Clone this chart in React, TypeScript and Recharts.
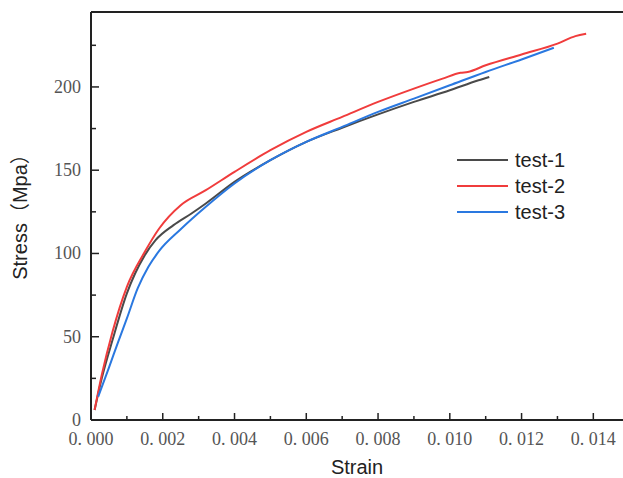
import { LineChart, Line, XAxis, YAxis, ReferenceLine } from 'recharts';

// test-1 (black)
const strain1 = [0.0001, 0.0003, 0.0006, 0.001, 0.0015, 0.0018, 0.0023, 0.0028, 0.0032, 0.004, 0.005, 0.006, 0.007, 0.008, 0.009, 0.01, 0.0108, 0.0111];
const stress1 = [6, 25, 48, 76, 99, 108, 117, 124, 130, 143, 156, 167, 175.5, 183.5, 191, 198, 204, 206];

// test-2 (red)
const strain2 = [0.0001, 0.0003, 0.0006, 0.001, 0.0015, 0.0019, 0.0025, 0.0032, 0.004, 0.005, 0.006, 0.007, 0.008, 0.009, 0.0098, 0.0103, 0.0105, 0.011, 0.012, 0.013, 0.0135, 0.0138];
const stress2 = [6, 27, 53, 80, 101, 115, 129, 138, 149, 162, 173, 182, 191, 199, 205, 208.5, 209, 213, 219.5, 226, 230.5, 232];

// test-3 (blue)
const strain3 = [0.0002, 0.0005, 0.00075, 0.001, 0.0013, 0.0016, 0.0019, 0.0025, 0.0032, 0.004, 0.005, 0.006, 0.007, 0.008, 0.009, 0.01, 0.011, 0.012, 0.0129];
const stress3 = [14, 31.5, 46.5, 61, 79, 92, 101.5, 114.5, 128, 142, 156, 167, 176, 185, 193, 201, 209, 216.5, 223.5];

const xTicks = [0, 0.001, 0.002, 0.003, 0.004, 0.005, 0.006, 0.007, 0.008, 0.009, 0.01, 0.011, 0.012, 0.013, 0.014];
const yTicks = [0, 25, 50, 75, 100, 125, 150, 175, 200, 225];

const series = [
  { name: 'test-1', color: '#4a4a4a', data: strain1.map((x, i) => ({ x, y: stress1[i] })) },
  { name: 'test-2', color: '#f03c3c', data: strain2.map((x, i) => ({ x, y: stress2[i] })) },
  { name: 'test-3', color: '#2a78e0', data: strain3.map((x, i) => ({ x, y: stress3[i] })) },
];

const tickFont = { fontFamily: '"Liberation Serif", "Times New Roman", serif', fontSize: 18, fill: '#555' };
const sans = '"Liberation Sans", Arial, "Noto Sans CJK SC", sans-serif';

const XTick = ({ x, y, payload }: any) => {
  const k = Math.round(payload.value * 1000);
  const major = k % 2 === 0;
  const label = '0. ' + String(k).padStart(3, '0');
  return (
    <g>
      <line x1={x} x2={x} y1={y} y2={y - (major ? 7 : 4)} stroke="#222" strokeWidth={1.5} />
      {major && (
        <text x={x} y={y + 25} textAnchor="middle" {...tickFont}>{label}</text>
      )}
    </g>
  );
};

const YTick = ({ x, y, payload }: any) => {
  const major = payload.value % 50 === 0;
  return (
    <g>
      <line x1={x} x2={x + (major ? 8 : 5)} y1={y} y2={y} stroke="#222" strokeWidth={1.5} />
      {major && (
        <text x={x - 10} y={y + 6} textAnchor="end" {...tickFont}>{payload.value}</text>
      )}
    </g>
  );
};

// legend drawn as an overlay so it doesn't shrink the plot area
const LegendBox = () => (
  <div style={{ position: 'absolute', left: 457, top: 147, fontFamily: sans, fontSize: 20, color: '#222' }}>
    {series.map((s) => (
      <div key={s.name} style={{ display: 'flex', alignItems: 'center', height: 26 }}>
        <span style={{ display: 'inline-block', width: 51, height: 2, background: s.color, marginRight: 7 }} />
        <span>{s.name}</span>
      </div>
    ))}
  </div>
);

export default function App() {
  return (
    <div style={{ position: 'absolute', left: 0, top: 0, width: 623, height: 478, background: '#fff' }}>
      <LineChart width={623} height={478} margin={{ top: 12, right: 0, bottom: 0, left: 0 }}>
        <XAxis
          type="number"
          dataKey="x"
          domain={[0, 0.014827]}
          allowDataOverflow
          ticks={xTicks}
          interval={0}
          tickSize={0}
          tickMargin={0}
          tick={<XTick />}
          axisLine={{ stroke: '#222', strokeWidth: 2 }}
          tickLine={false}
          label={{ value: 'Strain', position: 'insideBottom', offset: 0, dy: -4, style: { fontFamily: sans, fontSize: 20, fill: '#222' } }}
          height={58}
        />
        <YAxis
          type="number"
          dataKey="y"
          domain={[0, 245]}
          allowDataOverflow
          ticks={yTicks}
          interval={0}
          tickSize={0}
          tickMargin={0}
          tick={<YTick />}
          axisLine={{ stroke: '#222', strokeWidth: 2 }}
          tickLine={false}
          width={91}
          label={{ value: 'Stress（Mpa）', angle: -90, position: 'insideLeft', offset: 20, dy: -4, style: { fontFamily: sans, fontSize: 20, fill: '#222', textAnchor: 'middle' } }}
        />
        <ReferenceLine y={245} stroke="#222" strokeWidth={2} />
        {series.map((s) => (
          <Line
            key={s.name}
            data={s.data}
            dataKey="y"
            name={s.name}
            type="monotone"
            stroke={s.color}
            strokeWidth={2}
            dot={false}
            isAnimationActive={false}
          />
        ))}
      </LineChart>
      <LegendBox />
    </div>
  );
}
